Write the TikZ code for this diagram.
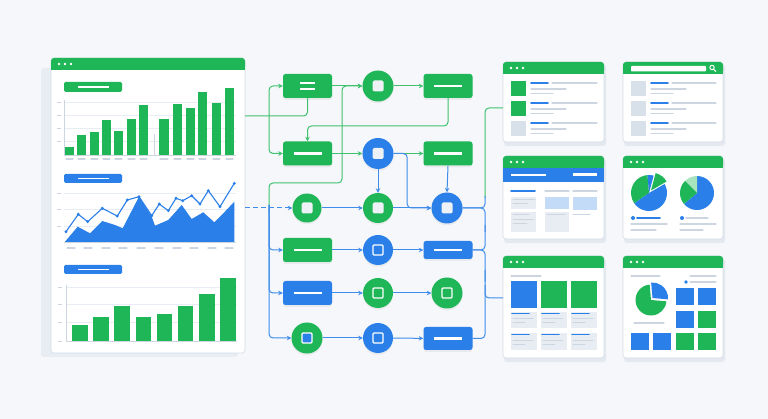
\documentclass[tikz,border=0pt]{standalone}
\usetikzlibrary{arrows.meta,fit,calc,shadows}
\definecolor{bg}{RGB}{245,247,250}
\definecolor{gr}{RGB}{30,182,86}
\definecolor{bl}{RGB}{42,127,232}
\definecolor{lg}{RGB}{204,213,224}
\definecolor{lp}{RGB}{232,237,243}
\definecolor{bd}{RGB}{214,221,230}
\definecolor{sh}{RGB}{228,233,240}
\definecolor{sqg}{RGB}{216,224,234}
\definecolor{icon}{RGB}{238,242,247}
\definecolor{lgr}{RGB}{168,228,190}
\definecolor{lbl}{RGB}{196,219,248}
\tikzset{
 conn/.style={line width=1pt, rounded corners=4pt},
 gconn/.style={conn, draw=gr!85!white},
 bconn/.style={conn, draw=bl!90!white},
 tip/.style={-{Stealth[length=4.5pt,width=4.5pt]}},
 garr/.style={gconn, tip},
 barr/.style={bconn, tip},
 soft/.style={drop shadow={opacity=0.10, shadow xshift=0pt, shadow yshift=-1.8pt}},
 fbox/.style={soft, rounded corners=2.5pt, minimum width=49pt, minimum height=24pt, inner sep=0pt},
 gbox/.style={fbox, fill=gr},
 bbox/.style={fbox, fill=bl},
 fcirc/.style={soft, circle, minimum size=31pt, inner sep=0pt},
 gcirc/.style={fcirc, fill=gr},
 bcirc/.style={fcirc, fill=bl},
 card/.style={draw=bd, fill=white, rounded corners=3pt, line width=0.6pt, inner sep=0pt},
 gl/.style={draw=lg, line width=1.3pt, line cap=round},
 bll/.style={draw=bl, line width=1.6pt, line cap=round},
 grid/.style={draw=lp, line width=0.5pt},
 tick/.style={draw=lg, line width=0.8pt},
}
\newcommand\barmark[1]{\draw[white, line width=2.3pt] ([xshift=-14pt]#1.center) -- ([xshift=14pt]#1.center);}
\newcommand\sqfill[1]{\node[fill=icon, rounded corners=1.5pt, minimum size=11pt, inner sep=0pt] at (#1) {};}
\newcommand\sqline[2]{\node[draw=white, fill=#2, line width=1.3pt, rounded corners=1pt, minimum size=10pt, inner sep=0pt] at (#1) {};}
\newcommand\whead[3]{\fill[gr, rounded corners=3pt] (#1,#2) rectangle (#3,#2+12); \fill[gr] (#1,#2+6) rectangle (#3,#2+12);}
\newcommand\wdots[2]{\fill[white] (#1+8,#2+6) circle (1.3) (#1+14,#2+6) circle (1.3) (#1+20,#2+6) circle (1.3);}
\newcommand\mkcard[5]{\fill[sh, rounded corners=3pt] (#2+1,#3+3) rectangle (#4+2,#5+4);
 \node[card, fit={(#2,#3) (#4,#5)}] (#1) {};}
\begin{document}
\begin{tikzpicture}[x=1pt,y=-1pt]
\fill[bg] (0,0) rectangle (768,419);
\useasboundingbox (0,0) rectangle (768,419);

% ---------------- left panel ----------------
\fill[lp, rounded corners=3pt] (41,68) rectangle (238,357);
\node[card, fit={(51,58) (245,353)}] (panel) {};
\whead{51}{58}{245}
\wdots{51}{58}
% chart 1
\fill[gr, rounded corners=1.5pt] (64,82) rectangle (122,92);
\draw[white, line width=1.6pt] (78,87) -- (109,87);
\foreach \y in {102,115,128,141} {\draw[grid] (64,\y) -- (236,\y); \draw[tick] (57,\y) -- (61,\y);}
\draw[lg, line width=0.6pt] (64,100) -- (64,155);
\draw[lg, line width=0.6pt] (154,134) -- (154,155);
\foreach \a/\b/\t in {65/74/147,77/86/135,90/99/132,102/111/120,114/123/131,127/136/119,139/148/105,159/169/119,173/182/104,186/195/108,198/207/92,212/221/103,225/234/88}
 {\fill[gr] (\a,\t) rectangle (\b,155); \draw[gl, line width=1.1pt] (\a+1,159) -- (\b-1,159);}
\draw[lg, line width=0.6pt] (64,155) -- (236,155);
% chart 2
\fill[bl, rounded corners=1.5pt] (64,174) rectangle (122,183);
\draw[white, line width=1.6pt] (78,178.5) -- (109,178.5);
\foreach \y in {193,209,226} {\draw[grid] (64,\y) -- (236,\y); \draw[tick] (57,\y) -- (61,\y);}
\fill[bl] (65,241.7) -- (77.7,226.7) -- (90,233.3) -- (102.3,221) -- (115,225) -- (122.7,228.3) -- (139,196.7) -- (151.7,216.7) -- (155,225.7) -- (168.3,220) -- (181.7,205) -- (191.7,219) -- (203.3,212.3) -- (214.3,222.3) -- (221.7,215) -- (234.3,201.7) -- (234.3,242.3) -- (65,242.3) -- cycle;
\draw[bl, line width=1.1pt, line join=round] (66,231.7) -- (78.3,214.3) -- (87.7,221.7) -- (102.3,208.3) -- (117.3,216) -- (127.3,200) -- (139,196.7) -- (151.7,215.7) -- (159.3,204) -- (168.3,210.7) -- (176,198.3) -- (182.7,200.7) -- (191.7,195.7) -- (200,204) -- (208.3,190.7) -- (220,206.7) -- (234.3,183.3);
\foreach \p in {(66,231.7),(78.3,214.3),(87.7,221.7),(102.3,208.3),(117.3,216),(127.3,200),(139,196.7),(151.7,215.7),(159.3,204),(168.3,210.7),(176,198.3),(182.7,200.7),(191.7,195.7),(200,204),(208.3,190.7),(220,206.7),(234.3,183.3)}
 {\fill[bl] \p circle (1.6);}
\draw[lg, line width=0.6pt] (64,242.3) -- (236,242.3);
\foreach \a in {67,84,102,119,137,155,173,190,208,225} {\draw[gl, line width=1.1pt] (\a,248) -- (\a+8,248);}
% chart 3
\fill[bl, rounded corners=1.5pt] (64,265) rectangle (122,274);
\draw[white, line width=1.6pt] (78,269.5) -- (109,269.5);
\foreach \y in {287,304,322} {\draw[grid] (66,\y) -- (237,\y); \draw[tick] (58,\y) -- (62,\y);}
\draw[tick] (58,341) -- (62,341);
\draw[lg, line width=0.6pt] (66,285) -- (66,341);
\foreach \a/\b/\t in {72/88/325,93/109/317,114/130/306,136/151/317,157/172/314,178/193/306,199/215/294,220/236/278}
 {\fill[gr] (\a,\t) rectangle (\b,341);}
\draw[lg, line width=0.6pt] (66,341) -- (237,341);
\coordinate (p1) at (245,116);
\coordinate (p2) at (245,208);

% ---------------- flow nodes ----------------
\node[gbox] (A) at (307.5,86) {};
\draw[white, line width=2pt] ([xshift=-7.5pt,yshift=-3pt]A.center) -- ([xshift=7.5pt,yshift=-3pt]A.center);
\draw[white, line width=2pt] ([xshift=-7.5pt,yshift=3pt]A.center) -- ([xshift=7.5pt,yshift=3pt]A.center);
\node[gcirc] (B) at (378,86) {}; \sqfill{B}
\node[gbox] (C) at (448,86) {}; \barmark{C}
\node[gbox] (D) at (307.5,153.5) {}; \barmark{D}
\node[bcirc] (E) at (378,153.5) {}; \sqfill{E}
\node[gbox] (F) at (448,153.5) {}; \barmark{F}
\node[gcirc, minimum size=29pt] (G) at (307,208) {}; \sqfill{G}
\node[gcirc, minimum size=30pt] (H) at (378,208) {}; \sqfill{H}
\node[bcirc] (I) at (447,208) {}; \sqfill{I}
\node[gbox] (J) at (307.5,250) {}; \barmark{J}
\node[bcirc, minimum size=30pt] (K) at (378,250) {}; \sqline{K}{bl}
\node[bbox, minimum height=18pt] (L) at (448,250) {}; \barmark{L}
\node[bbox] (M) at (307.5,293) {}; \barmark{M}
\node[gcirc, minimum size=30pt] (N) at (378,293) {}; \sqline{N}{gr}
\node[gcirc] (O) at (447,293) {}; \sqline{O}{gr}
\node[gcirc] (P) at (307,338) {}; \sqline{P}{bl}
\node[bcirc, minimum size=30pt] (Q) at (378,338) {}; \sqline{Q}{bl}
\node[bbox, minimum height=23pt] (R) at (448,338.5) {}; \barmark{R}

% ---------------- right cards ----------------
% card 1
\mkcard{w1}{503}{62}{604}{142}
\whead{503}{62}{604} \wdots{503}{62}
\foreach \r/\c in {0/gr,20/gr,40/sqg} {
 \fill[\c] (511,81+\r) rectangle (526,96+\r);
 \draw[bll] (531,83+\r) -- (548,83+\r);
 \draw[gl] (552,83+\r) -- (597,83+\r);
 \draw[gl, line width=1.1pt] (531,89+\r) -- (566,89+\r);
 \draw[gl, line width=1.1pt] (531,93.5+\r) -- (553,93.5+\r);
}
% card 2
\mkcard{w2}{623}{62}{723}{142}
\whead{623}{62}{723}
\fill[white, rounded corners=0.8pt] (631,66) rectangle (706,71.5);
\draw[white, line width=1pt] (712,67.5) circle (2.2) (713.6,69.2) -- (716,71.6);
\foreach \r in {0,20,40} {
 \fill[sqg] (631,81+\r) rectangle (646,96+\r);
 \draw[bll] (651,83+\r) -- (668,83+\r);
 \draw[gl] (672,83+\r) -- (716,83+\r);
 \draw[gl, line width=1.1pt] (651,89+\r) -- (686,89+\r);
 \draw[gl, line width=1.1pt] (651,93.5+\r) -- (673,93.5+\r);
}
% card 3
\mkcard{w3}{503}{156}{604}{239}
\whead{503}{156}{604} \wdots{503}{156}
\fill[bl] (503,168) rectangle (604,182);
\draw[white, line width=1.6pt] (511,175) -- (546,175);
\draw[white, line width=3pt] (573,175) -- (597,175);
\draw[bll] (511,191) -- (535,191);
\draw[gl] (545,191) -- (569,191); \draw[gl] (573,191) -- (597,191);
\fill[lp] (511,197) rectangle (536,209); \fill[lp] (511,212) rectangle (536,232);
\draw[gl, line width=0.9pt] (513,199) -- (535,199) (513,203) -- (528,203) (513,214) -- (529,214) (513,219) -- (534,219) (513,223) -- (527,223);
\fill[lbl] (545,197) rectangle (569,209); \fill[lp] (545,212) rectangle (569,232);
\draw[gl, line width=0.9pt] (547,214) -- (565,214);
\fill[lbl] (573,197) rectangle (597,210);
\draw[gl, line width=1pt] (573,215) -- (590,215);
% card 4
\mkcard{w4}{623}{156}{723}{239}
\whead{623}{156}{723} \wdots{623}{156}
\fill[gr] (649,193) -- ++(-95:18) arc[start angle=-95, end angle=-215, radius=18] -- cycle;
\fill[bl] (649,193) -- ++(-215:18) arc[start angle=-215, end angle=-390, radius=18] -- cycle;
\fill[bl] (649,193) -- ++(-75:18) arc[start angle=-75, end angle=-95, radius=18] -- cycle;
\fill[gr] (651,190.5) -- ++(-30:18) arc[start angle=-30, end angle=-75, radius=18] -- cycle;
\fill[bl] (697,193) -- ++(140:17) arc[start angle=140, end angle=-90, radius=17] -- cycle;
\fill[lgr] (697,193) -- ++(-90:17) arc[start angle=-90, end angle=-135, radius=17] -- cycle;
\fill[gr] (697,193) -- ++(-135:17) arc[start angle=-135, end angle=-220, radius=17] -- cycle;
\fill[bl] (633,218) circle (2);
\draw[bll] (637,218) -- (660,218);
\draw[gl, line width=1.1pt] (631,224) -- (667,224) (631,230) -- (656,230);
\fill[bl] (682,218) circle (2);
\draw[gl] (686,218) -- (708,218);
\draw[gl, line width=1.1pt] (680,224) -- (716,224) (680,230) -- (703,230);
% card 5
\mkcard{w5}{503}{256}{604}{358}
\whead{503}{256}{604} \wdots{503}{256}
\draw[gl] (511,276) -- (541,276);
\fill[bl] (511,281) rectangle (537,308);
\fill[gr] (541,281) rectangle (567,308);
\fill[gr] (571,281) rectangle (597,308);
\foreach \a in {511,541,571} {
 \fill[lp] (\a,312) rectangle (\a+26,328);
 \fill[lp] (\a,333) rectangle (\a+26,350);
 \draw[bll] (\a+1,313.5) -- (\a+18,313.5);
 \draw[gl, line width=0.9pt] (\a+2,318.5) -- (\a+22,318.5) (\a+2,322.5) -- (\a+14,322.5);
 \draw[bll] (\a+1,334.5) -- (\a+18,334.5);
 \draw[gl, line width=0.9pt] (\a+2,340) -- (\a+22,340) (\a+2,344) -- (\a+14,344);
}
% card 6
\mkcard{w6}{623}{256}{723}{358}
\whead{623}{256}{723} \wdots{623}{256}
\draw[gl] (631,276) -- (660,276);
\draw[gl] (690,276) -- (716,276);
\fill[bl] (686,282) circle (1.8);
\draw[gl] (690,282) -- (716,282);
\fill[gr] (651,300) -- ++(-95:15.5) arc[start angle=-95, end angle=-355, radius=15.5] -- cycle;
\fill[bl] (652.5,298) -- ++(5:15.5) arc[start angle=5, end angle=-95, radius=15.5] -- cycle;
\draw[gl] (634,323) -- (664,323);
\foreach \x/\y/\c in {676/288/bl,698/288/bl,676/311/bl,698/311/gr,676/333/gr,698/333/gr,631/333/bl,653/333/bl}
 {\fill[\c] (\x,\y) rectangle (\x+18,\y+17.5);}

\coordinate (w1in) at (503,108);
\coordinate (w5in) at (503,298);

% ---------------- connectors ----------------
\draw[gconn] (p1) -| (A.south);
\draw[garr] (269,116) |- (A.west);
\draw[garr] (269,116) |- (D.west);
\draw[garr] (A) -- (B);
\draw[garr] (B) -- (C);
\draw[garr] (C.south) -- (448,126) -| (D.north);
\draw[garr] (D) -- (E);
\draw[garr] (E) -- (F);
\draw[garr] (269,212) -- (269,183) -- (342,183) -- (342,86) -- (B.west);
\draw[barr, dashed, dash pattern=on 5pt off 3pt] (p2) -- (G.west);
\draw[barr] (G) -- (H);
\draw[barr] (H) -- (I);
\draw[barr] (E) -- (H);
\draw[barr] (F.south) -- (I.north);
\draw[barr] (E.east) -- ++(13.5,0) |- (I.west);
\draw[barr] (269,205) |- (J.west);
\draw[barr] (269,205) |- (M.west);
\draw[barr] (269,205) |- (P.west);
\draw[barr] (J) -- (K);
\draw[barr] (K) -- (L);
\draw[barr] (M) -- (N);
\draw[barr] (N) -- (O);
\draw[barr] (P) -- (Q);
\draw[barr] (Q) -- (R);
\draw[gconn] (485,198) |- (w1in);
\draw[bconn] (I.east) -| (485,196);
\draw[bconn] (I.east) -| (485,232);
\draw[bconn] (L.east) -| (485,225);
\draw[bconn] (L.east) -| (485,282);
\draw[bconn] (485,270) |- (w5in);
\draw[bconn] (R.east) -| (485,285);
\end{tikzpicture}
\end{document}
